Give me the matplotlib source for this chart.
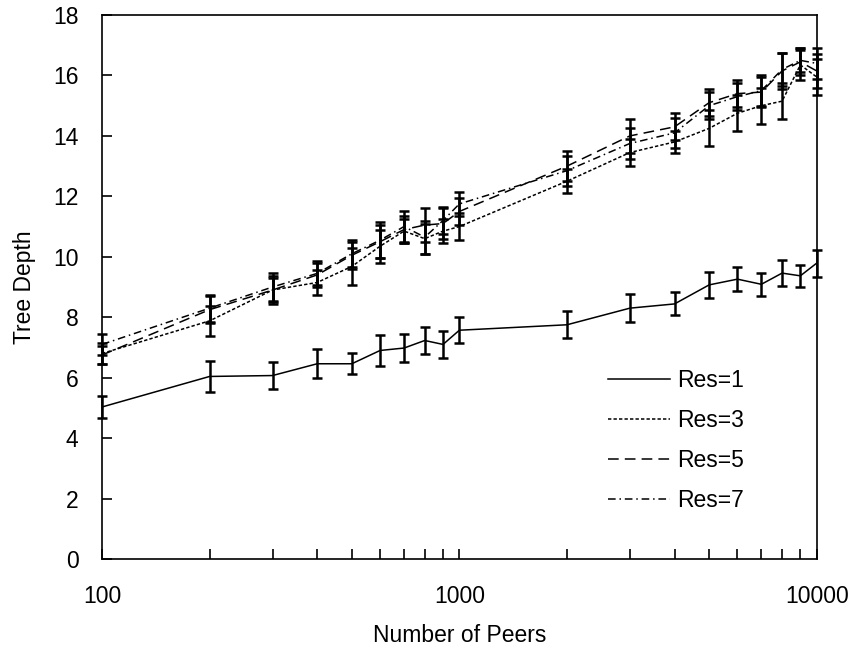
import matplotlib
matplotlib.use('Agg')
import matplotlib.pyplot as plt
from matplotlib.ticker import FixedLocator, NullFormatter, FuncFormatter

plt.rcParams['font.family'] = ['Liberation Sans', 'DejaVu Sans']
plt.rcParams['font.size'] = 16.5

peers = [100, 200, 300, 400, 500, 600, 700, 800, 900, 1000,
         2000, 3000, 4000, 5000, 6000, 7000, 8000, 9000, 10000]

res1 = [5.03, 6.04, 6.07, 6.46, 6.46, 6.90, 6.98, 7.23, 7.10, 7.57,
        7.75, 8.30, 8.44, 9.07, 9.26, 9.09, 9.46, 9.37, 9.79]
err1 = [0.37, 0.50, 0.45, 0.48, 0.35, 0.50, 0.47, 0.44, 0.44, 0.43,
        0.44, 0.47, 0.38, 0.42, 0.40, 0.39, 0.43, 0.37, 0.45]

res3 = [6.80, 7.88, 8.90, 9.15, 9.68, 10.35, 10.85, 10.60, 10.85, 11.00,
        12.50, 13.45, 13.80, 14.25, 14.75, 15.00, 15.15, 16.35, 15.95]
err3 = [0.35, 0.50, 0.40, 0.40, 0.62, 0.55, 0.40, 0.50, 0.40, 0.45,
        0.40, 0.45, 0.35, 0.60, 0.60, 0.60, 0.60, 0.50, 0.60]

res5 = [6.75, 8.25, 8.90, 9.40, 10.05, 10.50, 10.90, 11.05, 11.10, 11.50,
        13.00, 14.00, 14.30, 15.10, 15.40, 15.45, 16.15, 16.45, 16.15]
err5 = [0.30, 0.45, 0.45, 0.40, 0.45, 0.55, 0.45, 0.55, 0.50, 0.45,
        0.50, 0.55, 0.45, 0.45, 0.45, 0.50, 0.60, 0.45, 0.55]

res7 = [7.10, 8.30, 9.00, 9.45, 10.10, 10.55, 11.00, 10.65, 11.20, 11.75,
        12.85, 13.75, 14.10, 15.00, 15.30, 15.50, 16.20, 16.50, 16.40]
err7 = [0.35, 0.45, 0.45, 0.40, 0.45, 0.60, 0.50, 0.55, 0.45, 0.40,
        0.50, 0.50, 0.50, 0.45, 0.45, 0.50, 0.55, 0.40, 0.50]

series = [
    ('Res=1', res1, err1, '-'),
    ('Res=3', res3, err3, (0, (2.2, 1.4))),
    ('Res=5', res5, err5, (0, (7, 4))),
    ('Res=7', res7, err7, (0, (5, 2.5, 1, 2.5))),
]

fig = plt.figure(figsize=(8.51, 6.54), dpi=100)
ax = fig.add_axes([0.1199, 0.1453, 0.8398, 0.8317])

for label, vals, errs, ls in series:
    ax.plot(peers, vals, color='black', linewidth=1.1, linestyle=ls, label=label)
    ax.errorbar(peers, vals, yerr=errs, fmt='none', ecolor='black',
                elinewidth=1.8, capsize=3.8, capthick=1.8, clip_on=False)

ax.set_xscale('log')
ax.set_xlim(100, 10000)
ax.set_ylim(0, 18)
ax.set_yticks(range(0, 19, 2))
ax.xaxis.set_major_locator(FixedLocator([100, 1000, 10000]))
ax.xaxis.set_major_formatter(FuncFormatter(lambda v, p: '%d' % v))
ax.xaxis.set_minor_formatter(NullFormatter())

ax.tick_params(axis='both', which='both', direction='in', length=7, width=1.2,
               labelsize=16.5)
ax.tick_params(axis='x', which='both', pad=19)
ax.tick_params(axis='y', pad=17)
ax.tick_params(axis='both', which='both', top=False, right=False)
for s in ax.spines.values():
    s.set_linewidth(1.2)

ax.set_xlabel('Number of Peers', labelpad=11)
ax.set_ylabel('Tree Depth', labelpad=12)

ax.legend(loc='upper left', bbox_to_anchor=(0.708, 0.35), frameon=False,
          borderaxespad=0, borderpad=0, handlelength=2.7, handletextpad=0.3,
          labelspacing=0.75, fontsize=16.5)

fig.savefig('out.png', dpi=100)
